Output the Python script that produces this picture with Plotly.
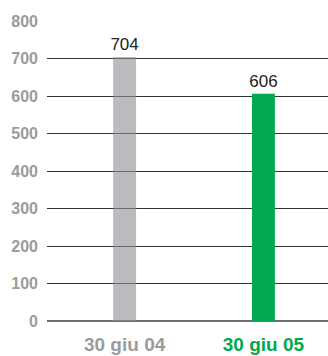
import plotly.graph_objects as go

# Data
categories = ["30 giu 04", "30 giu 05"]
values = [704, 606]
bar_colors = ["rgba(140,141,147,0.6)", "#00A84F"]
label_colors = ["#9B9B9B", "#00A84F"]
y_ticks = [0, 100, 200, 300, 400, 500, 600, 700, 800]

x_pos = list(range(len(categories)))

fig = go.Figure(
    go.Bar(
        x=x_pos,
        y=values,
        width=0.165,
        marker=dict(color=bar_colors, line=dict(width=0)),
        text=[str(v) for v in values],
        textposition="outside",
        constraintext="none",
        textfont=dict(family="Liberation Sans, Arial, sans-serif", size=17, color="#222222"),
        cliponaxis=False,
        hoverinfo="skip",
    )
)

fig.update_layout(
    width=328,
    height=356,
    margin=dict(l=47, r=0, t=21, b=35),
    paper_bgcolor="white",
    plot_bgcolor="white",
    showlegend=False,
    xaxis=dict(
        range=[-0.559, 1.465],
        tickmode="array",
        tickvals=x_pos,
        ticktext=[f'<span style="color:{c}">{t}</span>' for t, c in zip(categories, label_colors)],
        tickfont=dict(family="Liberation Sans, Arial, sans-serif", size=19, weight="bold"),
        showgrid=False,
        showline=False,
        zeroline=False,
        ticks="",
        ticklabelstandoff=10,
    ),
    yaxis=dict(
        range=[0, 800],
        tickmode="array",
        tickvals=y_ticks,
        tickfont=dict(family="Liberation Sans, Arial, sans-serif", size=16, color="#9B9B9B", weight="bold"),
        showgrid=True,
        gridcolor="#333333",
        gridwidth=1,
        zeroline=True,
        zerolinecolor="#6E6E6E",
        zerolinewidth=2,
        showline=False,
        ticks="",
        ticklabelstandoff=8,
    ),
)

fig.write_html("out.html")
